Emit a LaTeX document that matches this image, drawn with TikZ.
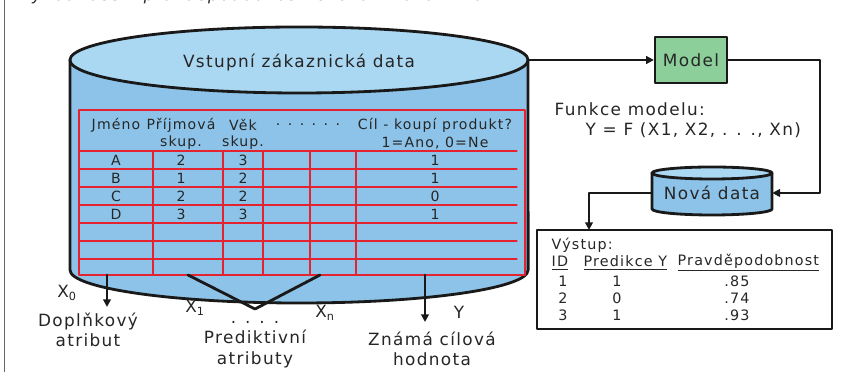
\documentclass[tikz,border=0pt]{standalone}
\usepackage{fontspec}
\setmainfont{DejaVu Sans}[LetterSpace=8]
\usetikzlibrary{arrows.meta}
\definecolor{topblue}{HTML}{AAD7F1}
\definecolor{bodyblue}{HTML}{8DC3E8}
\definecolor{modelgreen}{HTML}{8CCF9B}
\definecolor{tabred}{HTML}{E52330}

\begin{document}
\begin{tikzpicture}[line cap=round,line join=round,>={Triangle[length=5.5pt,width=5.5pt]},x=0.025cm,y=0.025cm,
    txt/.style={font=\fontsize{12}{14.5}\selectfont,text=black!85,inner sep=1pt},
    tab/.style={font=\fontsize{10}{12}\selectfont,text=black!85,inner sep=1pt},
    vystxt/.style={font=\fontsize{10.2}{12}\selectfont,text=black!85,inner sep=1pt},
    cyl/.style={line width=2pt,draw=black!90},
    con/.style={line width=2pt,draw=black!90},
    tabout/.style={draw=tabred,line width=1.8pt},
    tabin/.style={draw=tabred,line width=0.8pt}]
            \useasboundingbox (0,0) rectangle (847,372);
            \clip (0,0) rectangle (847,372);

            % frame and cut title
            \draw [black!60,line width=0.6pt] (4,0) -- (4,372);
            \node [txt,anchor=base west,font=\fontsize{11.5}{13}\selectfont\itshape] (titulek) at (18,371) {Vyhodnocení pravděpodobnosti chování zákazníka};

            % vstupni data
            \fill [bodyblue] (70,312) -- (70,102) arc [start angle=180,end angle=360,x radius=5.725cm,y radius=0.825cm] -- (528,312) -- cycle;
            \draw [cyl] (70,312) -- (70,102) arc [start angle=180,end angle=360,x radius=5.725cm,y radius=0.825cm] -- (528,312);
            \filldraw [cyl,fill=topblue] (299,312) ellipse [x radius=5.725cm,y radius=0.825cm];
            \node [txt] (vstup) at (299,309) {Vstupní zákaznická data};

            % tabulka
            \draw [tabout] (79,97) rectangle (525,262);
            \foreach \y in {221,203,185,167,149,131,113}
                \draw [tabin] (79,\y) -- (517,\y);
            \foreach \x in {153,223,263,310,356}
                \draw [tabin] (\x,221) -- (\x,97);
            \node [tab] (hjm) at (116,247) {Jméno};
            \node [tab] (hpr) at (181,247) {Příjmová};
            \node [tab] (hpr2) at (181,229) {skup.};
            \node [tab] (hvek) at (243,247) {Věk};
            \node [tab] (hvek2) at (243,229) {skup.};
            \node [tab] (htecky) at (308,247) {. . . . . .};
            \node [tab] (hcil) at (435,247) {Cíl - koupí produkt?};
            \node [tab] (hcil2) at (435,229) {1=Ano, 0=Ne};
            \foreach \y/\a/\b/\c/\d in {212/A/2/3/1,194/B/1/2/1,176/C/2/2/0,158/D/3/3/1} {
                \node [tab] (jm\a) at (116,\y) {\a};
                \node [tab] (pr\a) at (181,\y) {\b};
                \node [tab] (vek\a) at (243,\y) {\c};
                \node [tab] (cil\a) at (435,\y) {\d};
            }

            % atributy
            \coordinate (x0a) at (107,97);
            \coordinate (x0b) at (107,65);
            \draw [->,con] (x0a) -- (x0b);
            \node [txt] (xnula) at (67,79) {X\textsubscript{0}};
            \node [txt,align=center] (doplnek) at (88,42) {Doplňkový\\atribut};

            \coordinate (x1) at (188,97);
            \coordinate (vspicka) at (255,63);
            \coordinate (xn) at (320,97);
            \draw [con] (x1) -- (vspicka) -- (xn);
            \node [txt] (xjedna) at (195,64) {X\textsubscript{1}};
            \node [txt] (xenn) at (325,59) {X\textsubscript{n}};
            \node [txt] (tecky) at (255,50) {. . . .};
            \node [txt,align=center] (predikt) at (255,23) {Prediktivní\\atributy};

            \coordinate (ya) at (425,97);
            \coordinate (yb) at (425,50);
            \draw [->,con] (ya) -- (yb);
            \node [txt] (ypsilon) at (459,60) {Y};
            \node [txt,align=center] (znama) at (432,23) {Známá cílová\\hodnota};

            % model
            \node [txt,draw=black!90,line width=1.6pt,fill=modelgreen,minimum width=1.8cm,minimum height=1.15cm] (model) at (691,312) {Model};
            \coordinate (vstupR) at (528,312);
            \draw [->,con] (vstupR) -- (model.west);
            \node [txt,anchor=west] (funkce) at (553,263) {Funkce modelu:};
            \node [txt,anchor=west] (funkce2) at (584,242) {Y = F (X1, X2, . . ., Xn)};

            % nova data
            \fill [bodyblue] (652,199) -- (652,163) arc [start angle=180,end angle=360,x radius=1.5cm,y radius=0.15cm] -- (772,199) -- cycle;
            \draw [cyl] (652,199) -- (652,163) arc [start angle=180,end angle=360,x radius=1.5cm,y radius=0.15cm] -- (772,199);
            \filldraw [cyl,fill=topblue] (712,199) ellipse [x radius=1.5cm,y radius=0.15cm];
            \node [txt,minimum width=3cm] (nova) at (712,179) {Nová data};
            \coordinate (ohyb) at (820,312);
            \draw [->,con] (model.east) -- (ohyb) |- (nova.east);

            % vystup
            \node [draw=black!90,line width=2pt,minimum width=7.375cm,minimum height=2.475cm] (vystup) at (684.5,92.5) {};
            \coordinate (vstvrch) at (589,142);
            \draw [->,con] (nova.west) -| (vstvrch);
            \node [vystxt,anchor=west] (vyst0) at (550,127) {Výstup:};
            \node [vystxt,anchor=west] (hid) at (550,109) {\underline{ID}};
            \node [vystxt,anchor=west] (hpred) at (582,109) {\underline{Predikce Y}};
            \node [vystxt,anchor=west] (hpst) at (676,109) {\underline{Pravděpodobnost}};
            \foreach \y/\i/\p/\v in {91/1/1/.85,74/2/0/.74,57/3/1/.93} {
                \node [vystxt] (id\i) at (563,\y) {\i};
                \node [vystxt] (pred\i) at (617,\y) {\p};
                \node [vystxt] (pst\i) at (737,\y) {\v};
            }
\end{tikzpicture}
\end{document}
